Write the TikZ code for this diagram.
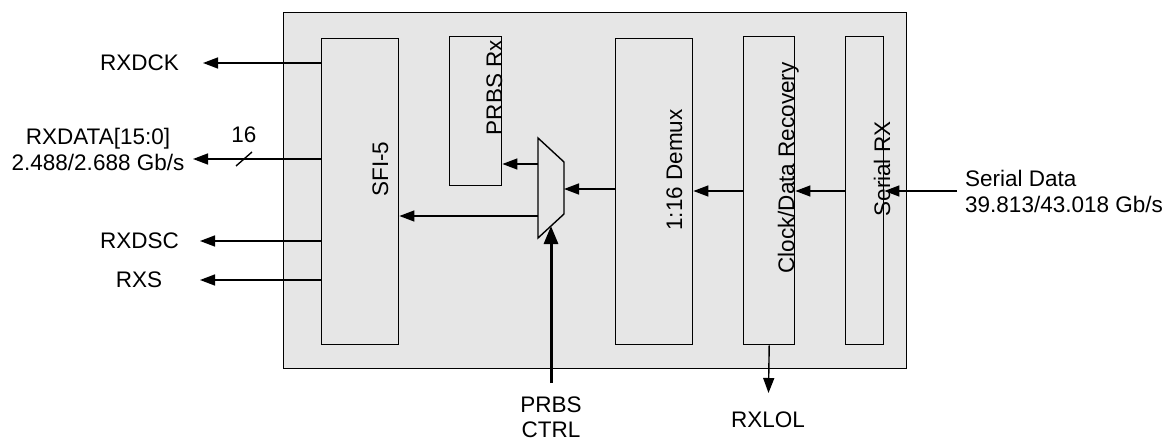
\documentclass[tikz,border=0pt]{standalone}
\usepackage{fontspec}
\setmainfont{Liberation Sans}
\usetikzlibrary{arrows.meta}
\definecolor{boxgray}{HTML}{E6E6E6}
\begin{document}
\begin{tikzpicture}[x=1pt,y=-1pt,
  font=\fontsize{22.5}{26}\selectfont,
  blk/.style={draw, fill=boxgray, line width=1.4pt, inner sep=0pt, anchor=north west},
  sig/.style={line width=1.4pt, -{Triangle[length=15pt,width=11pt]}},
  lbl/.style={inner sep=0pt},
  rlbl/.style={inner sep=0pt, rotate=90}]
\useasboundingbox (0,0) rectangle (1175,441);
% chip
\node[blk, minimum width=623pt, minimum height=356pt] (chip) at (283,12) {};
% blocks
\node[blk, minimum width=77pt, minimum height=306pt] (sfi) at (321,38) {};
\node[blk, minimum width=52pt, minimum height=149pt] (prbs) at (449,36) {};
\node[blk, minimum width=77pt, minimum height=306pt] (demux) at (615,38) {};
\node[blk, minimum width=51pt, minimum height=308pt] (cdr) at (743,36) {};
\node[blk, minimum width=38pt, minimum height=308pt] (serrx) at (845,36) {};
% mux
\coordinate (m1) at (538,138);
\coordinate (m2) at (564,162);
\coordinate (m3) at (564,214);
\coordinate (m4) at (538,238);
\draw[line width=1.4pt, fill=boxgray] (m1) -- (m2) -- (m3) -- (m4) -- cycle;
% block texts
\node[rlbl, anchor=base] (sfit) at (388,169) {SFI-5};
\node[rlbl, anchor=base east] (prbst) at (502,40) {PRBS Rx};
\node[rlbl, anchor=base] (demuxt) at (682,170) {1:16 Demux};
\node[rlbl, anchor=base] (cdrt) at (794,168) {Clock/Data Recovery};
\node[rlbl, anchor=base] (serrxt) at (890,169) {Serial RX};
% left labels
\node[lbl, anchor=east] (rxdck) at (179,63) {RXDCK};
\node[lbl, align=center] (rxdata) at (98,149) {RXDATA[15:0]\\2.488/2.688 Gb/s};
\node[lbl] (w16) at (244,135) {16};
\node[lbl, anchor=east] (rxdsc) at (179,241) {RXDSC};
\node[lbl] (rxs) at (139,280) {RXS};
\node[lbl, align=left, anchor=west] (sdata) at (965,191) {Serial Data\\39.813/43.018 Gb/s};
\node[lbl, align=center, font=\fontsize{22.5}{25}\selectfont] (pctrl) at (551,417) {PRBS\\CTRL};
\node[lbl] (rxlol) at (768,420) {RXLOL};
% connector ends
\coordinate (t1) at (203,63);
\coordinate (t2) at (193,159);
\coordinate (t3) at (200,241);
\coordinate (t4) at (200,280);
\coordinate (mo1) at (538,164);
\coordinate (mo2) at (538,216);
\coordinate (mi) at (564,189);
\coordinate (c1) at (743,191);
\coordinate (sd) at (957,191);
\coordinate (pc) at (551,383);
\coordinate (pct) at (551,226);
\coordinate (lol) at (768.5,393);
% connectors
\draw[sig] (t1 -| sfi.west) -- (t1);
\draw[sig] (t2 -| sfi.west) -- (t2);
\draw[line width=1.4pt] (236,166) -- (252,152);
\draw[sig] (t3 -| sfi.west) -- (t3);
\draw[sig] (t4 -| sfi.west) -- (t4);
\draw[sig] (mo1) -- (mo1 -| prbs.east);
\draw[sig] (mo2) -- (mo2 -| sfi.east);
\draw[sig] (mi -| demux.west) -- (mi);
\draw[sig] (c1) -- (c1 -| demux.east);
\draw[sig] (serrx.west |- c1) -- (cdr.east |- c1);
\draw[sig] (sd) -- (sd -| serrx.east);
\draw[line width=3pt, -{Triangle[length=18pt,width=14pt]}] (pc) -- (pct);
\draw[sig] (cdr.south) -- (lol);
\end{tikzpicture}
\end{document}
